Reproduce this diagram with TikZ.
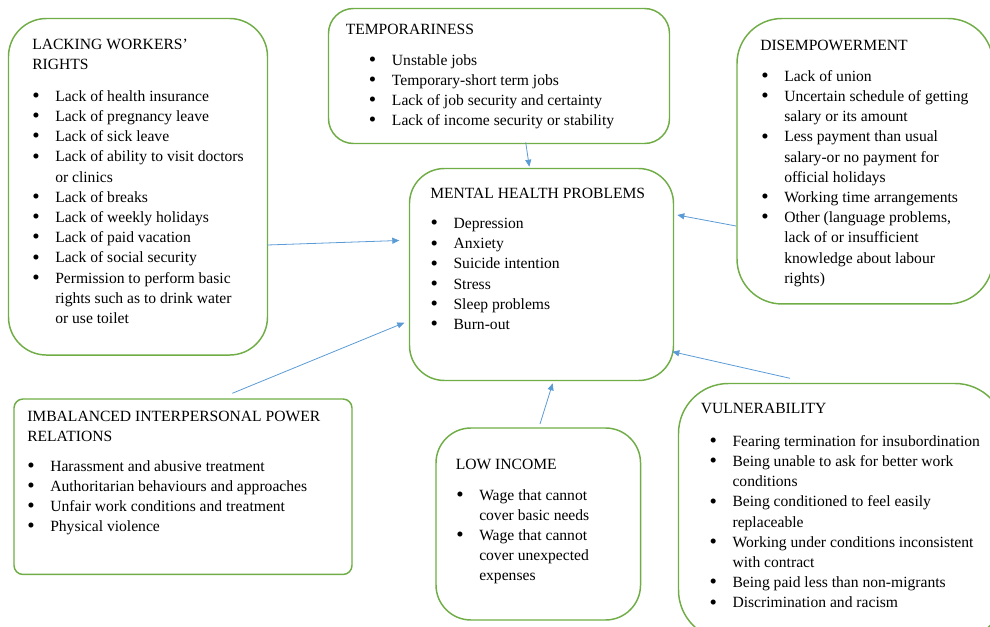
\documentclass[tikz,border=0pt]{standalone}
\usepackage{fontspec}
\setmainfont{Liberation Serif}
\usetikzlibrary{arrows.meta}
\definecolor{boxgreen}{RGB}{112,173,71}
\definecolor{arrowblue}{RGB}{91,155,213}
\newcommand{\bul}{\makebox[17.25pt][l]{\raisebox{-0.08em}{\scalebox{1.35}{\textbullet}}}}
\newcommand{\bulgap}{\makebox[17.25pt]{}}
\tikzset{
  box/.style={draw=boxgreen, line width=1.1pt, anchor=north west, inner sep=0pt, outer sep=0pt},
  boxtitle/.style={anchor=north west, inner sep=0pt, align=left, font=\fontsize{11.7}{15.15}\selectfont},
  boxlist/.style={boxtitle},
  link/.style={draw=arrowblue, line width=0.6pt, -{Triangle[length=5.25pt,width=4.5pt]}}
}

\begin{document}
\begin{tikzpicture}[x=0.75pt,y=0.75pt,yscale=-1,xscale=1]
\useasboundingbox (0,0) rectangle (990,627);

%Box: lacking workers' rights
\node[box, minimum width=194.25pt, minimum height=252.4pt, rounded corners=28.5pt] (lwr) at (8.5,18.5) {};
%Box: temporariness
\node[box, minimum width=255.75pt, minimum height=101.25pt, rounded corners=18.75pt] (temp) at (328.5,8.5) {};
%Box: disempowerment
\node[box, minimum width=192pt, minimum height=214.1pt, rounded corners=33.75pt] (dis) at (737,18.5) {};
%Box: mental health problems
\node[box, minimum width=198pt, minimum height=159pt, rounded corners=26.25pt] (mhp) at (409.5,168.5) {};
%Box: imbalanced power relations
\node[box, minimum width=253.5pt, minimum height=131.6pt, rounded corners=6.75pt] (imb) at (14,399) {};
%Box: low income
\node[box, minimum width=153.4pt, minimum height=144pt, rounded corners=26.25pt] (low) at (436,428) {};
%Box: vulnerability
\node[box, minimum width=244.9pt, minimum height=192.4pt, rounded corners=37.5pt] (vul) at (678.5,383.5) {};

% Text Node
\node[boxtitle] (lwr-title) at (32,39) {LACKING WORKERS’\\RIGHTS};
\node[boxlist] (lwr-list) at (32,90) {\bul Lack of health insurance\\
\bul Lack of pregnancy leave\\
\bul Lack of sick leave\\
\bul Lack of ability to visit doctors\\
\bulgap or clinics\\
\bul Lack of breaks\\
\bul Lack of weekly holidays\\
\bul Lack of paid vacation\\
\bul Lack of social security\\
\bul Permission to perform basic\\
\bulgap rights such as to drink water\\
\bulgap or use toilet};

% Text Node
\node[boxtitle] (temp-title) at (345.5,24) {TEMPORARINESS};
\node[boxlist] (temp-list) at (368.7,54) {\bul Unstable jobs\\
\bul Temporary-short term jobs\\
\bul Lack of job security and certainty\\
\bul Lack of income security or stability};

% Text Node
\node[boxtitle] (dis-title) at (760,40) {DISEMPOWERMENT};
\node[boxlist] (dis-list) at (761,70) {\bul Lack of union\\
\bul Uncertain schedule of getting\\
\bulgap salary or its amount\\
\bul Less payment than usual\\
\bulgap salary-or no payment for\\
\bulgap official holidays\\
\bul Working time arrangements\\
\bul Other (language problems,\\
\bulgap lack of or insufficient\\
\bulgap knowledge about labour\\
\bulgap rights)};

% Text Node
\node[boxtitle] (mhp-title) at (430,188) {MENTAL HEALTH PROBLEMS};
\node[boxlist] (mhp-list) at (430.3,218) {\bul Depression\\
\bul Anxiety\\
\bul Suicide intention\\
\bul Stress\\
\bul Sleep problems\\
\bul Burn-out};

% Text Node
\node[boxtitle] (imb-title) at (27,411) {IMBALANCED INTERPERSONAL POWER\\RELATIONS};
\node[boxlist] (imb-list) at (27,460) {\bul Harassment and abusive treatment\\
\bul Authoritarian behaviours and approaches\\
\bul Unfair work conditions and treatment\\
\bul Physical violence};

% Text Node
\node[boxtitle] (low-title) at (455.5,459) {LOW INCOME};
\node[boxlist] (low-list) at (456,489) {\bul Wage that cannot\\
\bulgap cover basic needs\\
\bul Wage that cannot\\
\bulgap cover unexpected\\
\bulgap expenses};

% Text Node
\node[boxtitle] (vul-title) at (700.5,403) {VULNERABILITY};
\node[boxlist] (vul-list) at (709.3,435) {\bul Fearing termination for insubordination\\
\bul Being unable to ask for better work\\
\bulgap conditions\\
\bul Being conditioned to feel easily\\
\bulgap replaceable\\
\bul Working under conditions inconsistent\\
\bulgap with contract\\
\bul Being paid less than non-migrants\\
\bul Discrimination and racism};

%Connector ends
\coordinate (lwr-out) at (267.5,245);
\coordinate (temp-out) at (525.7,142.3);
\coordinate (dis-out) at (736,226);
\coordinate (imb-out) at (232.3,393.3);
\coordinate (low-out) at (540,424);
\coordinate (vul-out) at (790,378.3);
\coordinate (mhp-in-w) at (399.3,240.5);
\coordinate (mhp-in-sw) at (404.3,322.7);
\coordinate (mhp-in-n) at (529.3,166.7);
\coordinate (mhp-in-e) at (677.3,215);
\coordinate (mhp-in-se) at (672.3,351.7);
\coordinate (mhp-in-s) at (552.7,383.3);

%Straight Lines
\draw[link] (lwr-out) -- (mhp-in-w);
\draw[link] (temp-out) -- (mhp-in-n);
\draw[link] (dis-out) -- (mhp-in-e);
\draw[link] (imb-out) -- (mhp-in-sw);
\draw[link] (low-out) -- (mhp-in-s);
\draw[link] (vul-out) -- (mhp-in-se);

\end{tikzpicture}
\end{document}
